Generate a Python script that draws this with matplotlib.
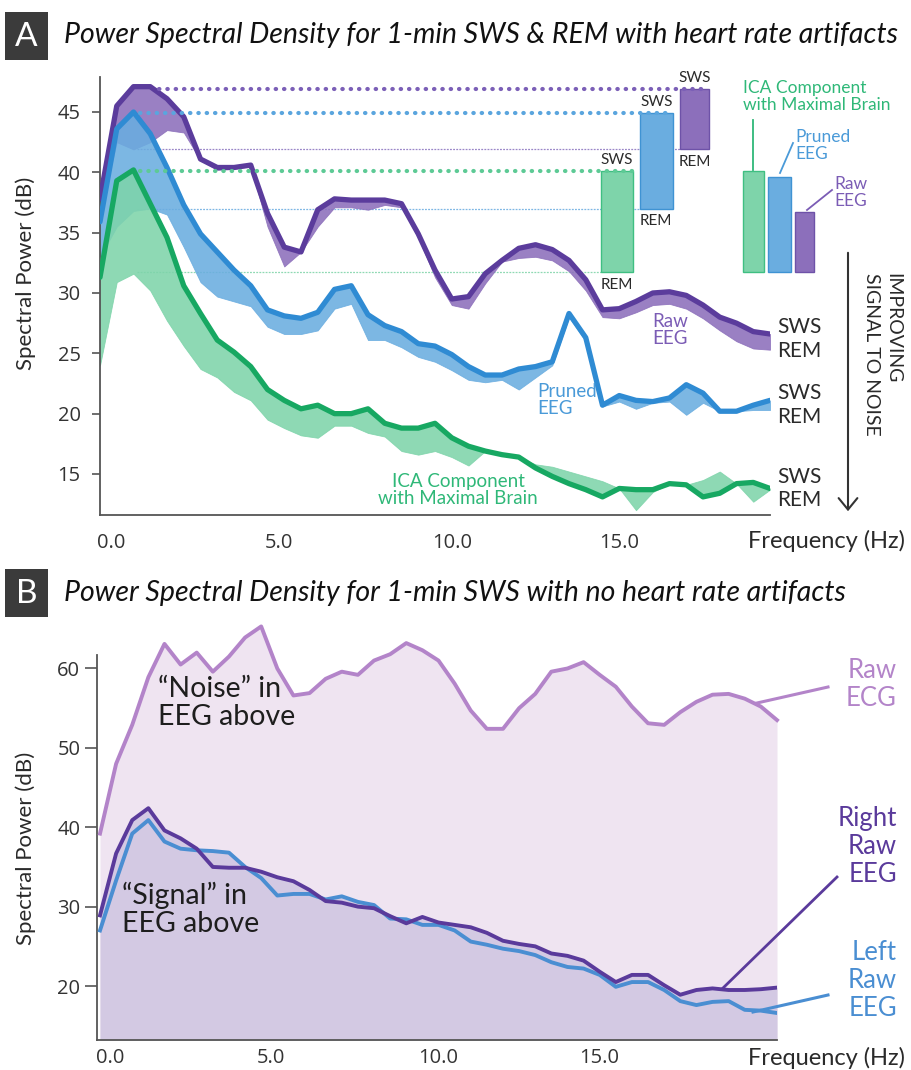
import numpy as np
import matplotlib
matplotlib.use("Agg")
import matplotlib.pyplot as plt
from matplotlib.patches import Rectangle, FancyArrowPatch
from matplotlib.lines import Line2D
from matplotlib.transforms import ScaledTranslation

plt.rcParams['font.family'] = ['Lato', 'DejaVu Sans']

# ---------------- data: panel A (SWS vs REM, 0-20 Hz) ----------------
freq_a = np.arange(0, 20.5, 0.5)
raw_sws = [37.8, 45.5, 47.1, 47.1, 46.1, 44.6, 41.1, 40.4, 40.4, 40.6, 36.6, 33.8, 33.4, 36.9,
           37.8, 37.7, 37.7, 37.7, 37.4, 34.9, 31.9, 29.5, 29.7, 31.6, 32.7, 33.7, 34.0, 33.6,
           32.7, 31.1, 28.6, 28.7, 29.3, 30.0, 30.1, 29.8, 29.0, 28.0, 27.5, 26.8, 26.6]
raw_rem = [36.5, 42.5, 41.9, 42.5, 43.5, 43.3, 41.0, 40.2, 40.3, 40.5, 35.5, 32.2, 33.4, 35.5,
           37.1, 37.1, 36.9, 37.3, 37.1, 34.6, 31.3, 29.0, 28.7, 30.8, 32.6, 32.9, 33.0, 32.7,
           31.8, 30.2, 28.0, 27.9, 28.4, 29.0, 29.1, 28.7, 27.9, 26.9, 26.0, 25.4, 25.3]
pruned_sws = [35.9, 43.6, 45.0, 43.2, 40.4, 37.3, 34.9, 33.4, 31.9, 30.6, 28.6, 28.1, 27.9, 28.4,
              30.3, 30.6, 28.2, 27.3, 26.8, 25.8, 25.6, 24.9, 23.9, 23.2, 23.2, 23.7, 23.9, 24.3,
              28.3, 26.3, 20.7, 21.5, 21.1, 21.0, 21.3, 22.4, 21.7, 20.2, 20.2, 20.7, 21.1]
pruned_rem = [33.0, 35.5, 36.8, 37.0, 36.5, 33.8, 30.9, 29.7, 29.3, 28.9, 27.2, 26.6, 26.6, 26.9,
              28.7, 29.1, 26.1, 26.1, 25.5, 24.7, 24.3, 23.6, 22.8, 22.6, 22.8, 22.0, 23.0, 24.0,
              28.0, 26.0, 20.6, 21.0, 20.4, 20.9, 21.0, 19.9, 20.9, 20.2, 20.2, 20.3, 20.3]
ica_sws = [31.3, 39.3, 40.2, 37.4, 34.6, 30.6, 28.3, 26.1, 25.1, 23.9, 22.0, 21.1, 20.4, 20.7,
           20.0, 20.0, 20.4, 19.2, 18.8, 18.8, 19.2, 18.0, 17.3, 16.9, 16.6, 16.4, 15.5, 14.8,
           14.2, 13.7, 13.1, 13.8, 13.7, 13.7, 14.2, 14.1, 13.1, 13.4, 14.2, 14.3, 13.8]
ica_rem = [24.0, 30.9, 31.6, 30.2, 27.7, 25.6, 23.7, 23.0, 21.8, 21.1, 19.5, 18.8, 18.2, 18.0,
           19.0, 19.0, 18.4, 18.1, 16.9, 16.6, 16.9, 16.4, 15.7, 16.9, 16.6, 16.4, 15.8, 15.6,
           15.2, 14.8, 14.4, 13.8, 12.0, 13.5, 14.2, 14.1, 14.5, 15.2, 14.2, 12.7, 13.7]
# peak power (ICA, Pruned, Raw)
peak_sws = [40.1, 44.9, 46.9]
peak_rem = [31.7, 37.0, 41.9]

# ---------------- data: panel B (SWS, 0-21 Hz) ----------------
freq_b = np.arange(0, 21.5, 0.5)
raw_ecg = [39.2, 48.0, 52.9, 58.9, 63.1, 60.5, 62.0, 59.6, 61.5, 63.9, 65.3, 60.0, 56.6, 56.9,
           58.7, 59.6, 59.2, 61.0, 61.8, 63.2, 62.3, 61.0, 58.1, 54.7, 52.4, 52.4, 55.0, 56.8,
           59.6, 60.0, 60.8, 59.2, 57.7, 55.2, 53.1, 52.9, 54.5, 55.8, 56.7, 56.8, 56.2, 55.2, 53.5]
right_eeg = [28.9, 36.7, 40.9, 42.4, 39.6, 38.6, 37.3, 35.0, 34.9, 34.9, 34.4, 33.7, 33.2, 32.1,
             30.7, 30.5, 30.0, 29.8, 28.8, 27.9, 28.7, 28.0, 27.7, 27.4, 26.7, 25.7, 25.3, 25.0,
             24.1, 23.8, 23.2, 21.8, 20.5, 21.4, 21.4, 20.1, 18.9, 19.5, 19.7, 19.5, 19.5, 19.6, 19.8]
left_eeg = [27.0, 33.3, 39.2, 40.9, 38.2, 37.3, 37.1, 37.0, 36.8, 35.0, 33.6, 31.4, 31.6, 31.6,
            30.9, 31.3, 30.6, 30.2, 28.5, 28.4, 27.7, 27.7, 27.0, 25.6, 25.2, 24.7, 24.4, 23.9,
            23.0, 22.4, 22.2, 21.4, 19.9, 20.5, 20.5, 19.5, 18.1, 17.6, 18.0, 18.1, 17.0, 16.9, 16.6]

xticks = [0, 5, 10, 15]
xtick_labels = ['0.0', '5.0', '10.0', '15.0']
yticks_a = [15, 20, 25, 30, 35, 40, 45]
yticks_b = [20, 30, 40, 50, 60]

# ---------------- style ----------------
PL, PF = '#5b3c9c', '#8c6fbb'
BL, BF = '#2f8bd3', '#6aade0'
GL, GF = '#17a862', '#7ed4aa'
PT, BT, GT = '#7b5cb5', '#4a9ad8', '#2fb878'
ECG_L, ECG_F = '#b384c9', '#efe4f1'
EEG_F = '#d3c9e3'
RL, LL = '#5a3a9b', '#4a8ed2'
TXT = '#2a2a2a'
AXC = '#555555'

W, H = 912, 1070
fig = plt.figure(figsize=(W / 100, H / 100), dpi=100)


def fx(x):
    return x / W


def fy(y):
    return 1 - y / H


def ftext(x, y, s, **kw):
    return fig.text(fx(x), fy(y), s, **kw)


def fline(x0, y0, x1, y1, color, lw=1.5):
    fig.add_artist(Line2D([fx(x0), fx(x1)], [fy(y0), fy(y1)], transform=fig.transFigure,
                          color=color, lw=lw))


def style_axes(ax):
    for s in ['top', 'right']:
        ax.spines[s].set_visible(False)
    for s in ['left', 'bottom']:
        ax.spines[s].set_color(AXC)
        ax.spines[s].set_linewidth(1.3)
    ax.set_facecolor('none')


# ---------------- panel headers ----------------
for lab, (y0, y1), title, base in [
        ('A', (12, 60), 'Power Spectral Density for 1-min SWS & REM with heart rate artifacts', 43),
        ('B', (569, 617), 'Power Spectral Density for 1-min SWS with no heart rate artifacts', 601)]:
    fig.add_artist(Rectangle((fx(5), fy(y1)), fx(48) - fx(5), fy(y0) - fy(y1),
                             transform=fig.transFigure, color='#3b3b3b', lw=0))
    ftext(26.5, (y0 + y1) / 2 + 1, lab, color='white', fontsize=24, ha='center', va='center')
    ftext(64, base, title, fontsize=20.5, style='italic', color='#111111',
          ha='left', va='baseline')

# ---------------- panel A ----------------
axA = fig.add_axes([fx(100), fy(515), (770 - 100) / W, (515 - 77) / H])
style_axes(axA)
axA.set_xlim(0, 20)
axA.set_ylim(11.6, 47.9)

# thin reference lines (REM peaks) and dotted lines (SWS peaks)
bar_left = [14.97, 16.12, 17.31]
bar_right = [15.9, 17.09, 18.18]
thin_cols = ['#8fd9b3', '#7db7e4', '#9a86c8']
dot_cols = ['#5dca95', '#5aa5de', '#7b5fb7']
dot_start = [1.2, 1.2, 1.75]
for i in range(3):
    axA.plot([1.1, bar_left[i]], [peak_rem[i]] * 2, color=thin_cols[i], lw=0.9,
             linestyle=(0, (1.5, 1)), zorder=1)

for sws, rem, lc, fc in [(raw_sws, raw_rem, PL, PF), (pruned_sws, pruned_rem, BL, BF),
                         (ica_sws, ica_rem, GL, GF)]:
    axA.fill_between(freq_a, sws, rem, color=fc, alpha=0.88, lw=0.6, edgecolor=fc, zorder=2)
    axA.plot(freq_a, sws, color=lc, lw=3.8, solid_joinstyle='round', solid_capstyle='round',
             zorder=3)

for i in range(3):
    axA.plot([dot_start[i], bar_right[i]], [peak_sws[i]] * 2, color=dot_cols[i], lw=3,
             linestyle=(0, (0.1, 1.9)), dash_capstyle='round', zorder=4)

# floating SWS-REM bars
bar_fill = [GF, BF, PF]
bar_edge = ['#3fbf82', '#3f93d3', '#6e52a8']
for i in range(3):
    c = (bar_left[i] + bar_right[i]) / 2
    w = bar_right[i] - bar_left[i]
    axA.bar(c, peak_sws[i] - peak_rem[i], bottom=peak_rem[i], width=w, color=bar_fill[i],
            edgecolor=bar_edge[i], lw=1, zorder=3)
    axA.text(c, peak_sws[i] + 0.35, 'SWS', ha='center', va='bottom', fontsize=11, color=TXT)
    axA.text(c, peak_rem[i] - 0.45, 'REM', ha='center', va='top', fontsize=11, color=TXT)

# difference legend bars
leg_left = [19.19, 19.94, 20.75]
leg_right = [19.82, 20.63, 21.31]
for i in range(3):
    c = (leg_left[i] + leg_right[i]) / 2
    axA.bar(c, peak_sws[i] - peak_rem[i], bottom=peak_rem[0], width=leg_right[i] - leg_left[i],
            color=bar_fill[i], edgecolor=bar_edge[i], lw=1, zorder=3, clip_on=False)

ftext(743, 80, 'ICA Component\nwith Maximal Brain', color=GT, fontsize=12.5, ha='left', va='top',
      linespacing=1.1)
ftext(795, 129, 'Pruned\nEEG', color=BT, fontsize=12.5, ha='left', va='top', linespacing=1.1)
ftext(834, 176, 'Raw\nEEG', color=PT, fontsize=12.5, ha='left', va='top', linespacing=1.1)
fline(753, 120, 753, 170, GT, 1.3)
fline(793, 143, 780, 173, BT, 1.3)
fline(832, 190, 807, 210, PT, 1.3)

# curve labels
ftext(670, 330, 'Raw\nEEG', color=PT, fontsize=13.5, ha='center', va='center', linespacing=1.05)
ftext(537, 400, 'Pruned\nEEG', color=BT, fontsize=13.5, ha='left', va='center', linespacing=1.05)
ftext(458, 490, 'ICA Component\nwith Maximal Brain', color=GT, fontsize=13.5, ha='center',
      va='center', linespacing=1.05)

# SWS / REM end labels
for ys, yr in [(327, 351), (393, 417), (477, 500)]:
    ftext(777, ys, 'SWS', color=TXT, fontsize=15, ha='left', va='center')
    ftext(777, yr, 'REM', color=TXT, fontsize=15, ha='left', va='center')

# improving arrow
fig.add_artist(FancyArrowPatch((fx(848), fy(250)), (fx(848), fy(514)), transform=fig.transFigure,
                               arrowstyle='->,head_length=0.55,head_width=0.45', mutation_scale=15,
                               color='#333333', lw=1.5))
ftext(882, 273, 'IMPROVING\nSIGNAL TO NOISE', rotation=270, ha='center', va='top',
      multialignment='left', fontsize=14, color=TXT, linespacing=1.3)

axA.set_yticks(yticks_a)
axA.set_yticklabels([str(v) for v in yticks_a])
axA.set_xticks(xticks)
axA.set_xticklabels(xtick_labels)
axA.tick_params(axis='y', length=6, width=1.2, color=AXC, pad=8, labelsize=14.5,
                labelcolor='#333333')
axA.tick_params(axis='x', length=0, pad=13, labelsize=14.5, labelcolor='#333333')
off = ScaledTranslation(-3 / 100, 0, fig.dpi_scale_trans)
for t in axA.get_xticklabels():
    t.set_ha('left')
    t.set_transform(t.get_transform() + off)
for t in axA.get_yticklabels():
    t.set_fontfamily(['Open Sans', 'DejaVu Sans'])
for t in axA.get_xticklabels():
    t.set_fontfamily(['Open Sans', 'DejaVu Sans'])
ftext(905, 541, 'Frequency (Hz)', ha='right', va='center', fontsize=17, color=TXT)
ftext(26, 273, 'Spectral Power (dB)', rotation=90, ha='center', va='center', fontsize=16,
      color=TXT)

# ---------------- panel B ----------------
axB = fig.add_axes([fx(97), fy(1040), (777 - 97) / W, (1040 - 655) / H])
style_axes(axB)
axB.set_xlim(-0.093, 21.0)
axB.set_ylim(13.2, 61.7)
base_b = axB.get_ylim()[0]
axB.fill_between(freq_b, raw_ecg, base_b, color=ECG_F, lw=0, zorder=1, clip_on=False)
axB.fill_between(freq_b, np.maximum(right_eeg, left_eeg), base_b, color=EEG_F, lw=0, zorder=2)
axB.plot(freq_b, raw_ecg, color=ECG_L, lw=2.8, zorder=4, clip_on=False, solid_joinstyle='round')
axB.plot(freq_b, left_eeg, color=LL, lw=2.8, zorder=4, solid_joinstyle='round')
axB.plot(freq_b, right_eeg, color=RL, lw=2.8, zorder=5, solid_joinstyle='round')

axB.set_yticks(yticks_b)
axB.set_yticklabels([str(v) for v in yticks_b])
axB.set_xticks(xticks)
axB.set_xticklabels(xtick_labels)
axB.tick_params(axis='y', length=8.5, width=1.2, color=AXC, pad=3.5, labelsize=14.5,
                labelcolor='#333333')
axB.tick_params(axis='x', length=0, pad=6, labelsize=14.5, labelcolor='#333333')
offb = ScaledTranslation(-4 / 100, 0, fig.dpi_scale_trans)
for t in axB.get_xticklabels():
    t.set_ha('left')
    t.set_transform(t.get_transform() + offb)
    t.set_fontfamily(['Open Sans', 'DejaVu Sans'])
for t in axB.get_yticklabels():
    t.set_fontfamily(['Open Sans', 'DejaVu Sans'])
ftext(905, 1058, 'Frequency (Hz)', ha='right', va='center', fontsize=17, color=TXT)
ftext(26, 848, 'Spectral Power (dB)', rotation=90, ha='center', va='center', fontsize=16,
      color=TXT)

ftext(158, 676, '\u201cNoise\u201d in\nEEG above', color='#1e1e1e', fontsize=20.5, ha='left',
      va='top', linespacing=1.1)
ftext(122, 882, '\u201cSignal\u201d in\nEEG above', color='#1e1e1e', fontsize=20.5, ha='left',
      va='top', linespacing=1.1)

ftext(897, 658, 'Raw\nECG', color=ECG_L, fontsize=18.5, ha='right', va='top', multialignment='right',
      linespacing=1.15)
ftext(897, 806, 'Right\nRaw\nEEG', color=RL, fontsize=18.5, ha='right', va='top',
      multialignment='right', linespacing=1.15)
ftext(897, 940, 'Left\nRaw\nEEG', color=LL, fontsize=18.5, ha='right', va='top',
      multialignment='right', linespacing=1.15)
fline(828, 687, 757, 703, ECG_L, 2.2)
fline(837, 877, 722, 989, RL, 2.0)
fline(828, 995, 753, 1012, LL, 2.2)

fig.savefig('out.png', dpi=100)
